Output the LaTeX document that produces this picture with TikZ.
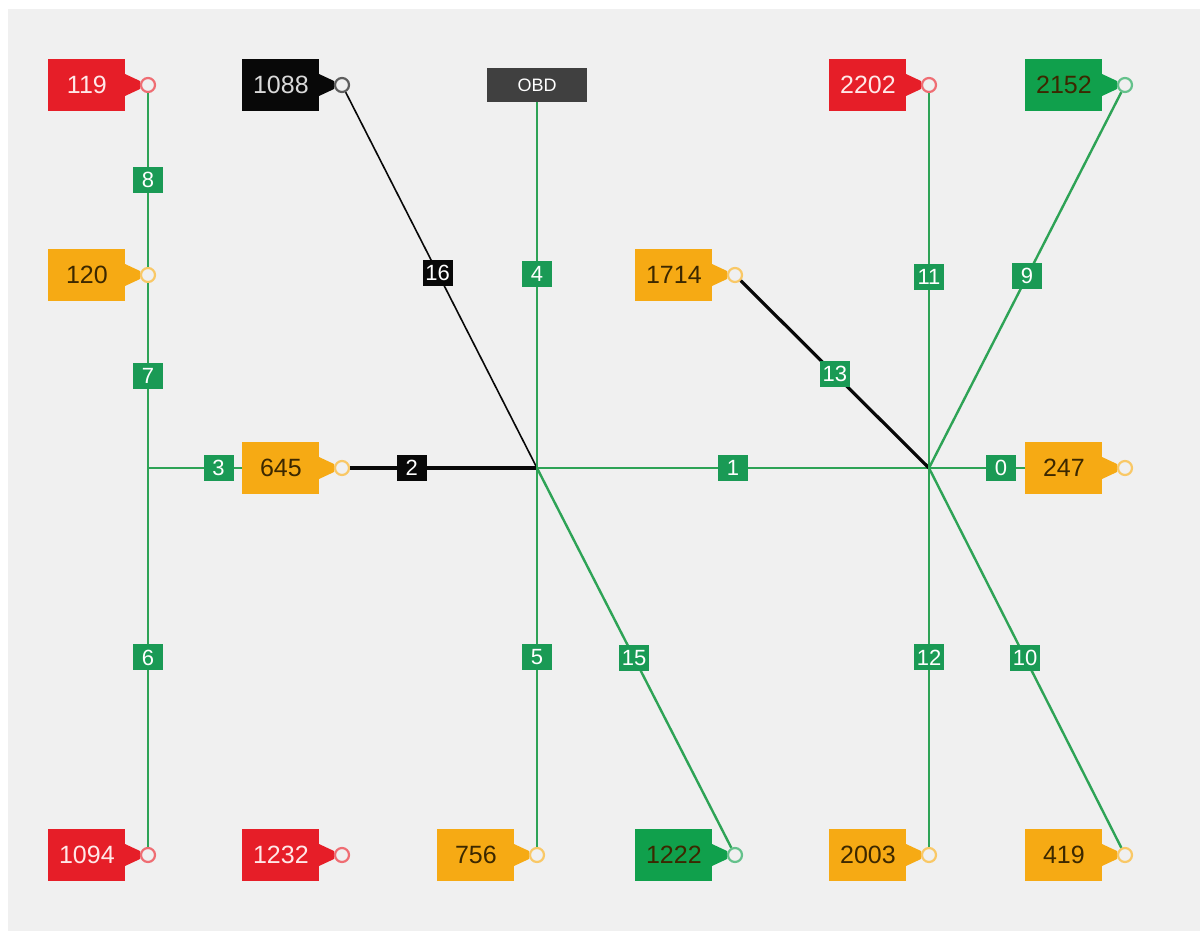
\documentclass[tikz,border=0pt]{standalone}
\usepackage{fontspec}
\setmainfont{Liberation Sans}
\usetikzlibrary{positioning,calc}
\definecolor{bggray}{RGB}{240,240,240}
\definecolor{tagred}{RGB}{230,30,40}
\definecolor{tagorange}{RGB}{246,170,20}
\definecolor{taggreen}{RGB}{16,160,76}
\definecolor{tagblack}{RGB}{8,8,8}
\definecolor{obdgray}{RGB}{64,64,64}
\definecolor{wiregreen}{RGB}{46,163,86}
\definecolor{labelgreen}{RGB}{26,154,85}
\definecolor{darktext}{RGB}{60,40,0}
\definecolor{paletext}{RGB}{255,232,232}
\tikzset{
  tagbody/.style={rectangle,minimum width=38.5pt,minimum height=26pt,inner sep=0pt,
    font=\fontsize{12.5}{12.5}\selectfont},
  tagport/.style={circle,minimum size=7pt,inner sep=0pt,line width=1.1pt,fill=bggray},
  obdbox/.style={rectangle,fill=obdgray,text=white,minimum width=50pt,minimum height=17pt,
    inner sep=0pt,font=\fontsize{9}{9}\selectfont},
  wire/.style={draw=wiregreen,line width=1.2pt},
  blackwire/.style={draw=tagblack,line width=1.6pt},
  thinblack/.style={draw=tagblack,line width=0.8pt},
  edgelabel/.style={fill=labelgreen,text=white,minimum width=15pt,minimum height=13pt,
    inner sep=0pt,font=\fontsize{11}{11}\selectfont},
}
% tag: name, port x, port y, fill, text colour
\newcommand{\tagnode}[5]{%
  \node[tagbody,fill=#4,text=#5,anchor=west] (t#1) at (#2-100,#3) {#1};
  \fill[#4] (#2-23,#3-11) -- (#2-8,#3-4) -- (#2-8,#3+4) -- (#2-23,#3+11) -- cycle;
  \node[tagport,draw=#4!65] (p#1) at (#2,#3) {};
}
\begin{document}
\begin{tikzpicture}[x=0.5pt,y=-0.5pt]
  \useasboundingbox (0,0) rectangle (1200,931);
  \fill[white] (0,0) rectangle (1200,931);
  \fill[bggray] (8,9) rectangle (1200,931);

  % tags
  \tagnode{119}{148}{85}{tagred}{paletext}
  \tagnode{1088}{342}{85}{tagblack}{white!85!black}
  \tagnode{2202}{929}{85}{tagred}{paletext}
  \tagnode{2152}{1125}{85}{taggreen}{darktext}
  \tagnode{120}{148}{275}{tagorange}{darktext}
  \tagnode{1714}{735}{275}{tagorange}{darktext}
  \tagnode{645}{342}{468}{tagorange}{darktext}
  \tagnode{247}{1125}{468}{tagorange}{darktext}
  \tagnode{1094}{148}{855}{tagred}{paletext}
  \tagnode{1232}{342}{855}{tagred}{paletext}
  \tagnode{756}{537}{855}{tagorange}{darktext}
  \tagnode{1222}{735}{855}{taggreen}{darktext}
  \tagnode{2003}{929}{855}{tagorange}{darktext}
  \tagnode{419}{1125}{855}{tagorange}{darktext}
  \node[obdbox] (obd) at (537,85) {OBD};

  % hubs
  \coordinate (j) at (148,468);
  \coordinate (h2) at (537,468);
  \coordinate (h3) at (929,468);

  % wires
  \draw[wire] (p119) -- (p120) node[edgelabel,midway] {8};
  \draw[wire] (p120) -- (j) node[edgelabel,midway] {7};
  \draw[wire] (j) -- (p1094) node[edgelabel,midway] {6};
  \draw[wire] (j) -- (t645) node[edgelabel,pos=0.75] {3};
  \draw[blackwire] (p645) -- (h2) node[edgelabel,fill=tagblack,pos=0.33] {2};
  \draw[thinblack] (p1088) -- (h2) node[edgelabel,fill=tagblack,pos=0.48] {16};
  \draw[wire] (obd) -- (h2) node[edgelabel,pos=0.47] {4};
  \draw[wire] (h2) -- (p756) node[edgelabel,midway] {5};
  \draw[wire] (h2) -- (p1222) node[edgelabel,midway] {15};
  \draw[wire] (h2) -- (h3) node[edgelabel,midway] {1};
  \draw[blackwire] (p1714) -- (h3) node[edgelabel,midway] {13};
  \draw[wire] (p2202) -- (h3) node[edgelabel,pos=0.49] {11};
  \draw[wire] (p2152) -- (h3) node[edgelabel,pos=0.49] {9};
  \draw[wire] (h3) -- (t247) node[edgelabel,pos=0.75] {0};
  \draw[wire] (h3) -- (p2003) node[edgelabel,midway] {12};
  \draw[wire] (h3) -- (p419) node[edgelabel,midway] {10};
\end{tikzpicture}
\end{document}
